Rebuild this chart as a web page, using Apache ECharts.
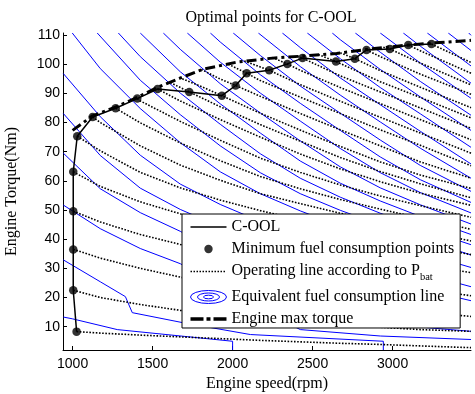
<!DOCTYPE html>
<html>
<head>
<meta charset="utf-8">
<script src="https://cdn.jsdelivr.net/npm/echarts@6/dist/echarts.min.js"></script>
<style>
html, body { margin: 0; padding: 0; background: #fff; }
#chart { width: 475px; height: 394px; }
</style>
</head>
<body>
<div id="chart"></div>
<script>
// C-OOL: minimum fuel consumption points (rpm / Nm)
var coolSpeed = [1025, 1004, 1004, 1004, 1004, 1029, 1125, 1269, 1404, 1531, 1729, 1933, 2019, 2088, 2229, 2342, 2437, 2646, 2764, 2837, 2983, 3098, 3243];
var coolTorque = [8.3, 22.5, 36.5, 49.6, 63.1, 75.3, 81.9, 84.9, 88.2, 91.5, 90.5, 89.2, 92.7, 96.9, 97.9, 100.1, 102.1, 100.9, 101.9, 104.9, 105.2, 106.6, 106.9];

// engine max torque curve
var maxSpeed = [1000, 1125, 1269, 1404, 1531, 1671, 1817, 2025, 2233, 2441, 2650, 2858, 3067, 3233, 3490];
var maxTorque = [77.3, 82.3, 85.3, 88.6, 92.1, 95.2, 98.3, 100.7, 102.0, 102.8, 103.7, 105.2, 106.4, 107.2, 108.2];

// operating lines according to P_bat (dotted), one through each optimal point
var operatingLines = [
  [[1025, 8.3], [1173, 7.8], [1423, 7.1], [1673, 6.5], [1923, 5.9], [2173, 5.3], [2423, 4.8], [2673, 4.3], [2923, 3.9], [3173, 3.4], [3490, 2.8]],
  [[1004, 22.5], [1173, 20.0], [1423, 17.6], [1673, 15.6], [1923, 14.0], [2173, 12.7], [2423, 11.6], [2673, 10.7], [2923, 9.8], [3173, 9.0], [3490, 8.4]],
  [[1004, 36.5], [1173, 33.5], [1423, 30.0], [1673, 27.0], [1923, 24.4], [2173, 22.0], [2423, 20.0], [2673, 18.2], [2923, 16.6], [3173, 15.2], [3490, 13.5]],
  [[1004, 49.6], [1173, 45.9], [1423, 41.6], [1673, 38.2], [1923, 35.0], [2173, 32.4], [2423, 29.9], [2673, 27.5], [2923, 25.3], [3173, 23.1], [3490, 20.6]],
  [[1004, 63.1], [1173, 58.1], [1423, 52.8], [1673, 48.7], [1923, 45.2], [2173, 41.9], [2423, 39.0], [2673, 36.4], [2923, 33.8], [3173, 31.4], [3490, 28.5]],
  [[1029, 75.3], [1173, 70.3], [1423, 62.9], [1673, 57.6], [1923, 53.4], [2173, 49.8], [2423, 46.5], [2673, 43.5], [2923, 40.7], [3173, 38.0], [3490, 34.7]],
  [[1125, 81.9], [1173, 80.0], [1423, 72.0], [1673, 65.4], [1923, 60.2], [2173, 55.6], [2423, 52.2], [2673, 48.9], [2923, 45.8], [3173, 42.9], [3490, 39.4]],
  [[1269, 84.9], [1423, 79.9], [1673, 73.0], [1923, 66.9], [2173, 61.5], [2423, 57.3], [2673, 53.6], [2923, 50.3], [3173, 47.2], [3490, 43.4]],
  [[1404, 88.2], [1423, 87.4], [1673, 80.4], [1923, 73.9], [2173, 67.8], [2423, 62.9], [2673, 58.6], [2923, 54.8], [3173, 51.5], [3490, 47.5]],
  [[1531, 91.5], [1673, 87.4], [1923, 81.0], [2173, 75.0], [2423, 69.2], [2673, 64.1], [2923, 59.7], [3173, 55.8], [3490, 51.6]],
  [[1611, 93.7], [1729, 90.5], [1923, 85.4], [2173, 79.3], [2423, 73.6], [2673, 68.0], [2923, 63.2], [3173, 59.0], [3490, 54.2]],
  [[1667, 95.4], [1798, 92.5], [1933, 89.2], [2173, 83.2], [2423, 77.4], [2673, 71.8], [2923, 66.5], [3173, 62.0], [3490, 57.4]],
  [[1804, 98.2], [1923, 94.9], [2019, 92.7], [2173, 89.0], [2423, 83.1], [2673, 77.5], [2923, 72.0], [3173, 66.5], [3490, 60.9]],
  [[1973, 100.0], [2088, 96.9], [2173, 94.4], [2423, 88.7], [2673, 83.1], [2923, 77.5], [3173, 72.2], [3490, 65.2]],
  [[2073, 101.1], [2229, 97.9], [2423, 93.0], [2673, 87.3], [2923, 81.8], [3173, 76.4], [3490, 69.5]],
  [[2248, 102.3], [2342, 100.1], [2423, 97.9], [2673, 92.0], [2923, 86.5], [3173, 81.0], [3490, 74.1]],
  [[2404, 102.8], [2437, 102.1], [2673, 96.0], [2923, 90.5], [3173, 85.0], [3490, 78.0]],
  [[2536, 103.3], [2646, 100.9], [2923, 94.0], [3173, 88.6], [3490, 81.6]],
  [[2673, 103.9], [2764, 101.9], [2923, 97.8], [3173, 92.1], [3490, 85.1]],
  [[2837, 104.9], [2923, 102.6], [3173, 96.6], [3490, 89.7]],
  [[2942, 105.8], [2983, 105.2], [3173, 100.4], [3490, 92.9]],
  [[3098, 106.6], [3173, 104.6], [3490, 96.9]],
  [[3243, 106.9], [3490, 100.6]]
];

// equivalent fuel consumption lines (blue contours)
var fuelLines = [
  [[998, 110.7], [1173, 98.5], [1423, 84.8], [1673, 73.1], [1923, 63.1], [2173, 55.6], [2423, 49.7], [2673, 44.5], [2923, 39.8], [3173, 35.4], [3490, 30.3]],
  [[1154, 110.7], [1423, 94.5], [1673, 82.7], [1923, 72.0], [2173, 62.8], [2423, 55.6], [2673, 49.9], [2923, 44.9], [3173, 40.1], [3490, 34.6]],
  [[1286, 110.7], [1423, 102.6], [1673, 90.1], [1923, 79.4], [2173, 69.3], [2423, 60.9], [2673, 54.4], [2923, 48.9], [3173, 43.9], [3490, 38.1]],
  [[1423, 110.7], [1673, 97.4], [1923, 86.4], [2173, 76.4], [2423, 66.8], [2673, 59.2], [2923, 53.1], [3173, 47.8], [3490, 41.6]],
  [[1567, 110.7], [1673, 105.1], [1923, 93.3], [2173, 83.3], [2423, 73.7], [2673, 64.8], [2923, 57.6], [3173, 51.8], [3490, 45.2]],
  [[1717, 110.7], [1923, 100.7], [2173, 90.1], [2423, 80.5], [2673, 71.1], [2923, 62.8], [3173, 56.0], [3490, 49.0]],
  [[1861, 110.7], [1923, 107.6], [2173, 96.4], [2423, 86.6], [2673, 77.3], [2923, 68.2], [3173, 60.4], [3490, 52.6]],
  [[2004, 110.7], [2173, 103.0], [2423, 92.5], [2673, 83.2], [2923, 74.0], [3173, 65.3], [3490, 56.4]],
  [[2161, 110.7], [2423, 99.2], [2673, 89.4], [2923, 80.2], [3173, 71.2], [3490, 60.9]],
  [[2311, 110.7], [2423, 105.7], [2673, 95.3], [2923, 86.1], [3173, 77.0], [3490, 65.8]],
  [[2467, 110.7], [2673, 101.9], [2923, 92.0], [3173, 83.0], [3490, 71.5]],
  [[2623, 110.7], [2673, 108.4], [2923, 98.2], [3173, 88.8], [3490, 77.3]],
  [[2767, 110.7], [2923, 104.1], [3173, 94.1], [3490, 82.5]],
  [[2923, 110.7], [3173, 100.4], [3490, 88.3]],
  [[3067, 110.7], [3173, 106.2], [3490, 93.5]],
  [[3217, 110.7], [3490, 99.4]],
  [[3348, 110.7], [3490, 104.7]],
  [[3476, 110.7], [3490, 109.9]],
  [[942, 96.8], [1173, 82.0], [1423, 68.8], [1673, 58.9], [1923, 51.9], [2173, 46.1], [2423, 41.0], [2673, 36.5], [2923, 32.3], [3173, 28.4], [3490, 23.7]],
  [[942, 83.1], [1173, 68.7], [1423, 57.5], [1673, 50.2], [1923, 44.3], [2173, 39.1], [2423, 34.6], [2673, 30.4], [2923, 26.5], [3173, 23.0], [3490, 18.9]],
  [[942, 69.5], [1173, 57.3], [1423, 49.1], [1673, 42.7], [1923, 35.0], [2173, 28.0], [2423, 21.0], [2673, 15.5], [2923, 11.0], [3490, 8.4]],
  [[942, 51.7], [1173, 43.6], [1423, 36.8], [1673, 31.6], [1923, 24.0], [2173, 16.0], [2423, 9.0], [2923, 6.8], [3490, 5.6]],
  [[942, 32.9], [1173, 25.4], [1330, 20.3], [1373, 14.8], [1686, 11.4], [2111, 7.3], [2942, 5.0], [2942, 2]],
  [[942, 13.3], [998, 12.7], [1279, 9.0], [2000, 5.0], [2000, 2]]
];

var NAME_COOL = 'C-OOL';
var NAME_DOTS = 'Minimum fuel consumption points';
var NAME_OP = 'Operating line according to Pbat';
var NAME_FUEL = 'Equivalent fuel consumption line';
var NAME_MAX = 'Engine max torque';

// legend icon shapes (36 x 14 box, corners pinned so the path is not stretched)
var BOX = 'M0,0L0.01,0ZM36,14L36.01,14Z';
var dottedIcon = BOX;
for (var k = 0; k < 12; k++) {
  dottedIcon += 'M' + (k * 3) + ',1.8h1.5v1.4h-1.5Z';
}

var chart = echarts.init(document.getElementById('chart'));

var series = [];
fuelLines.forEach(function (line) {
  series.push({
    name: NAME_FUEL, type: 'line', data: line, symbol: 'none', silent: true, z: 1,
    lineStyle: { color: '#0000ff', width: 1 }, itemStyle: { color: '#0000ff' }
  });
});
operatingLines.forEach(function (line) {
  series.push({
    name: NAME_OP, type: 'line', data: line, symbol: 'none', silent: true, z: 2,
    lineStyle: { color: '#000', width: 1.6, type: [1.6, 1.6] }, itemStyle: { color: '#000' }
  });
});
series.push({
  name: NAME_MAX, type: 'line', symbol: 'none', z: 3,
  data: maxSpeed.map(function (s, i) { return [s, maxTorque[i]]; }),
  lineStyle: { color: '#000', width: 3, type: [10, 4, 3, 4] }, itemStyle: { color: '#000' }
});
series.push({
  name: NAME_COOL, type: 'line', symbol: 'none', z: 4,
  data: coolSpeed.map(function (s, i) { return [s, coolTorque[i]]; }),
  lineStyle: { color: '#000', width: 1.5 }, itemStyle: { color: '#000' }
});
series.push({
  name: NAME_DOTS, type: 'scatter', symbol: 'circle', symbolSize: 8.5, z: 5,
  data: coolSpeed.map(function (s, i) { return [s, coolTorque[i]]; }),
  itemStyle: { color: '#000' }
});

var serif = 'Liberation Serif';

var option = {
  animation: false,
  backgroundColor: '#fff',
  title: {
    text: 'Optimal points for C-OOL',
    left: 266, top: 5, textAlign: 'center',
    textStyle: { fontFamily: serif, fontSize: 16, fontWeight: 'normal', color: '#000' }
  },
  grid: { left: 63, right: 4, top: 33, bottom: 44, containLabel: false, outerBoundsMode: 'none' },
  legend: {
    orient: 'vertical', left: 182, top: 214,
    backgroundColor: '#fff', borderColor: '#000', borderWidth: 1,
    padding: [5, 6, 1, 8], itemGap: 6, itemWidth: 36, itemHeight: 14,
    textStyle: {
      fontFamily: serif, fontSize: 16, color: '#000',
      rich: {
        a: { fontFamily: serif, fontSize: 16, color: '#000', padding: [0, 0, 10, 0] },
        sub: { fontFamily: serif, fontSize: 10.5, color: '#000', padding: [2, 0, 0, 0] }
      }
    },
    formatter: function (name) {
      return name === NAME_OP ? '{a|Operating line according to P}{sub|bat}' : name;
    },
    data: [
      { name: NAME_COOL, icon: 'path://' + BOX + 'M0,6.3L36,6.3L36,7.7L0,7.7Z', itemStyle: { color: '#000', borderWidth: 0 } },
      { name: NAME_DOTS, icon: 'path://' + BOX + 'M22.2,7A4.2,4.2,0,1,1,13.8,7A4.2,4.2,0,1,1,22.2,7Z', itemStyle: { color: '#000', borderWidth: 0 } },
      { name: NAME_OP, icon: 'path://' + dottedIcon, itemStyle: { color: '#000', borderWidth: 0 } },
      { name: NAME_FUEL, icon: 'path://M0,7A18,6.5,0,1,0,36,7A18,6.5,0,1,0,0,7ZM7,7A11,4,0,1,0,29,7A11,4,0,1,0,7,7ZM13,7A5,1.8,0,1,0,23,7A5,1.8,0,1,0,13,7Z',
        itemStyle: { color: 'rgba(0,0,0,0)', borderColor: '#0000ff', borderWidth: 1 } },
      { name: NAME_MAX, icon: 'path://' + BOX + 'M0,5.3h13v3.4h-13ZM16,5.3h4v3.4h-4ZM23,5.3h13v3.4h-13Z', itemStyle: { color: '#000', borderWidth: 0 } }
    ]
  },
  xAxis: {
    type: 'value', min: 940, max: 3490, minInterval: 500, maxInterval: 500,
    name: 'Engine speed(rpm)', nameLocation: 'middle', nameGap: 25,
    nameTextStyle: { fontFamily: serif, fontSize: 16, color: '#000' },
    axisLine: { lineStyle: { color: '#000', width: 1 } },
    axisTick: { inside: true, length: 4, lineStyle: { color: '#000' } },
    axisLabel: {
      showMinLabel: false, showMaxLabel: false, margin: 7,
      fontFamily: 'Liberation Sans', fontSize: 14, color: '#000',
      formatter: function (v) { return String(v); }
    },
    splitLine: { show: false }
  },
  yAxis: {
    type: 'value', min: 2, max: 110.7, minInterval: 10, maxInterval: 10,
    name: 'Engine Torque(Nm)', nameLocation: 'middle', nameGap: 43,
    nameTextStyle: { fontFamily: serif, fontSize: 16, color: '#000' },
    axisLine: { lineStyle: { color: '#000', width: 1 } },
    axisTick: { inside: true, length: 4, lineStyle: { color: '#000' } },
    axisLabel: {
      showMinLabel: false, showMaxLabel: false, margin: 3,
      fontFamily: 'Liberation Sans', fontSize: 14, color: '#000',
      formatter: function (v) { return String(v); }
    },
    splitLine: { show: false }
  },
  series: series
};
chart.setOption(option);
</script>
</body>
</html>
